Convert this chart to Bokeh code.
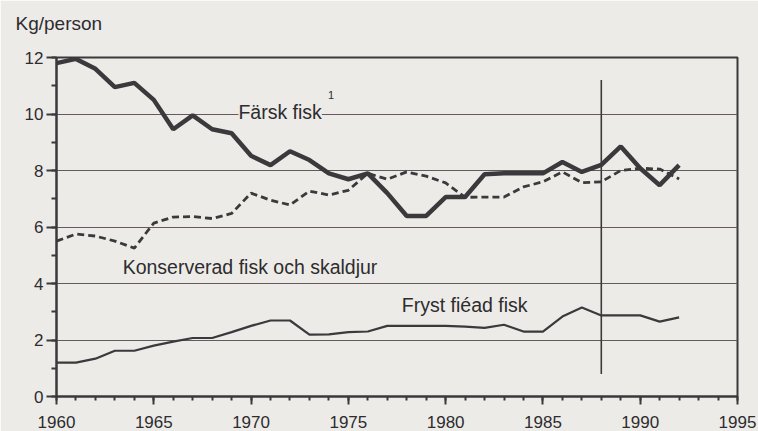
from bokeh.plotting import figure
from bokeh.models import Range1d, SingleIntervalTicker, Label, FixedTicker
from bokeh.embed import file_html
from bokeh.resources import INLINE

# ---- data ----
years = list(range(1960, 1993))
farsk = [11.8, 11.95, 11.6, 10.95, 11.1, 10.5, 9.46, 9.95, 9.46, 9.32, 8.52,
         8.19, 8.68, 8.37, 7.9, 7.69, 7.9, 7.2, 6.39, 6.39, 7.06, 7.06, 7.87,
         7.9, 7.9, 7.9, 8.3, 7.95, 8.2, 8.85, 8.08, 7.48, 8.19]
konserv = [5.5, 5.75, 5.68, 5.5, 5.25, 6.14, 6.35, 6.37, 6.3, 6.48, 7.2,
           6.95, 6.78, 7.27, 7.13, 7.3, 7.9, 7.69, 7.95, 7.8, 7.56, 7.05, 7.06,
           7.06, 7.42, 7.6, 7.95, 7.57, 7.6, 8.0, 8.08, 8.05, 7.7]
fryst = [1.2, 1.2, 1.34, 1.62, 1.62, 1.8, 1.94, 2.07, 2.07, 2.28, 2.5,
         2.69, 2.69, 2.19, 2.2, 2.28, 2.3, 2.5, 2.5, 2.5, 2.5, 2.47, 2.43,
         2.54, 2.3, 2.3, 2.83, 3.15, 2.87, 2.87, 2.87, 2.65, 2.8]
marker_year = [1988]
marker_low = [0.8]
marker_high = [11.2]
grid_values = [2, 4, 6, 8, 10]

BG = "#ecebe8"
INK = "#3b393b"
FONT = "Liberation Sans"

p = figure(width=758, height=431, output_backend="svg", toolbar_location=None,
           x_range=Range1d(1960, 1995), y_range=Range1d(0, 12),
           min_border_left=56, min_border_right=21, min_border_top=57,
           min_border_bottom=35)
p.background_fill_color = BG
p.border_fill_color = BG
p.outline_line_color = INK
p.outline_line_width = 2

p.add_layout(Label(x=-41, y=34, x_units="screen", y_units="screen",
                   text="Kg/person", text_font=FONT, text_font_size="19px",
                   text_color="#2e2c2e", text_baseline="alphabetic"), "above")

p.xaxis.ticker = SingleIntervalTicker(interval=5, num_minor_ticks=5)
p.yaxis.ticker = SingleIntervalTicker(interval=2, num_minor_ticks=2)
for ax in (p.xaxis[0], p.yaxis[0]):
    ax.axis_line_color = INK
    ax.axis_line_width = 2
    ax.major_tick_line_color = INK
    ax.major_tick_line_width = 2
    ax.minor_tick_line_color = INK
    ax.minor_tick_line_width = 2
    ax.major_tick_in = 0
    ax.minor_tick_in = 0
    ax.major_label_text_font = FONT
    ax.major_label_text_font_size = "17px"
    ax.major_label_text_color = "#2e2c2e"
p.xaxis.major_tick_out = 8
p.xaxis.minor_tick_out = 4
p.xaxis.major_label_standoff = 11
p.yaxis.major_tick_out = 10
p.yaxis.minor_tick_out = 5
p.yaxis.major_label_standoff = 3

p.xgrid.visible = False
p.ygrid.ticker = FixedTicker(ticks=grid_values)
p.ygrid.grid_line_color = "#66585c"
p.ygrid.grid_line_width = 1

p.line(years, fryst, line_color=INK, line_width=2.2)
p.line(years, konserv, line_color=INK, line_width=2.8, line_dash="7 4")
p.line(years, farsk, line_color=INK, line_width=4.5)

p.segment(x0=marker_year, y0=marker_low, x1=marker_year, y1=marker_high,
          line_color=INK, line_width=1.6)

def lab(x, y, t, size="19.5px", bg=None):
    p.add_layout(Label(x=x, y=y, text=t, text_font=FONT, text_font_size=size,
                       text_color="#2e2c2e", text_baseline="alphabetic",
                       background_fill_color=bg))

lab(1969.35, 10.08, "Färsk fisk", bg=BG)
lab(1973.95, 10.68, "1", size="11px")
lab(1963.4, 4.58, "Konserverad fisk och skaldjur")
lab(1977.75, 3.23, "Fryst fiéad fisk")

open("out.html", "w").write(file_html(p, INLINE))
